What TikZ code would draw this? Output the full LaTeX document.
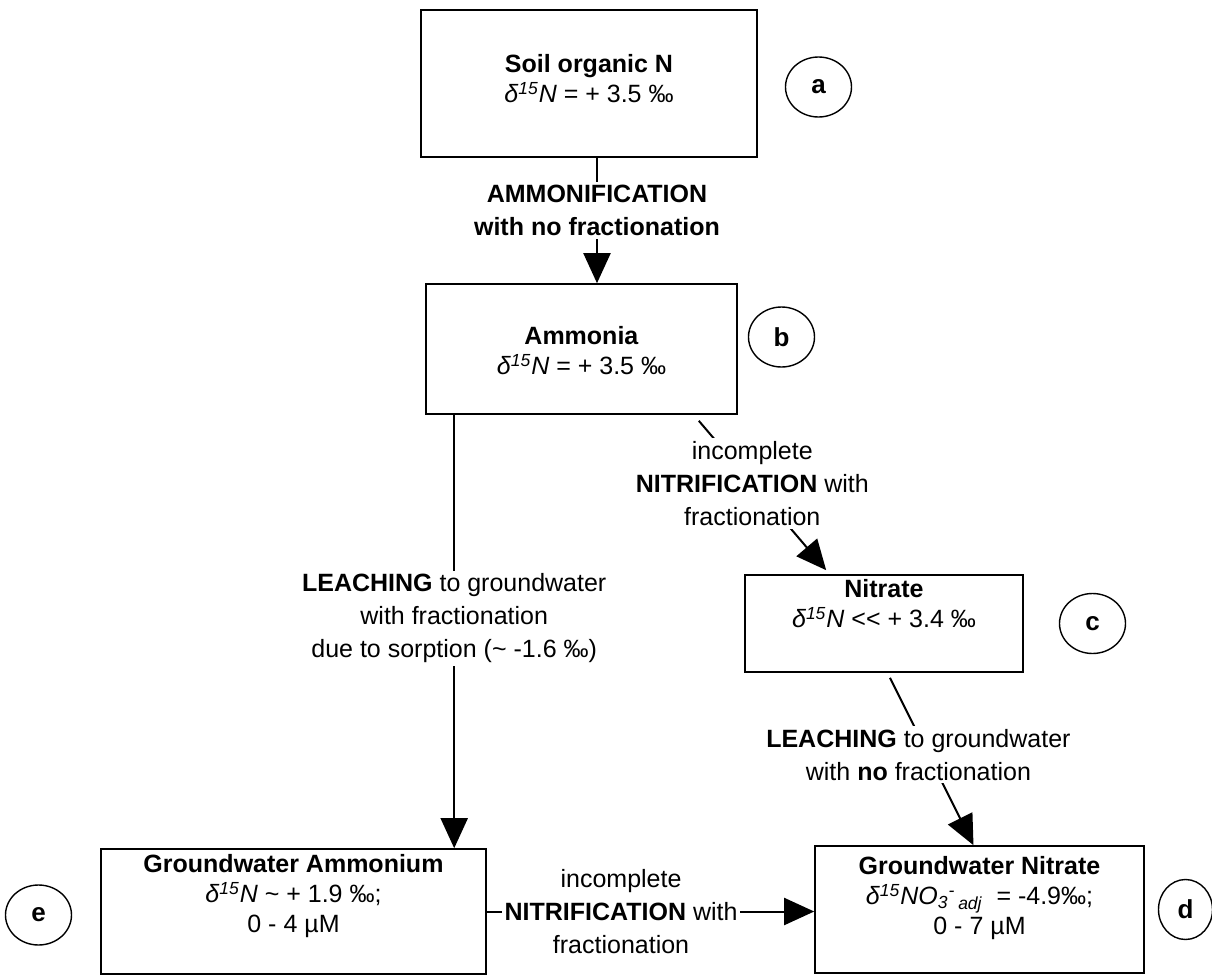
\documentclass[tikz,border=0pt]{standalone}
\usepackage{fontspec}
\setmainfont{Liberation Sans}
\usetikzlibrary{arrows.meta, positioning, shapes.geometric}

\newcommand{\dN}{\textit{δ\textsuperscript{15}N}}

\begin{document}
\begin{tikzpicture}[
    x=0.5pt, y=-0.5pt,
    font=\fontsize{12.5}{14.5}\selectfont,
    box/.style={rectangle, draw, line width=0.8pt, inner sep=0pt},
    boxtext/.style={align=center, inner sep=0pt, font=\fontsize{12.5}{15}\selectfont},
    tag/.style={ellipse, draw, line width=0.7pt, minimum width=33pt, minimum height=30pt, inner sep=0pt, font=\fontsize{13}{15}\selectfont\bfseries},
    lbl/.style={fill=white, align=center, inner sep=1.5pt, font=\fontsize{12.5}{16.5}\selectfont},
    arrow/.style={line width=1pt, -{Triangle[length=15pt, width=13.5pt]}}
]
\path[use as bounding box, fill=white] (0,0) rectangle (1212,975);

% Boxes
\node[box, minimum width=168pt, minimum height=73.5pt] (soil) at (589,83.5) {};
\node[box, minimum width=155.5pt, minimum height=65pt] (ammonia) at (581.5,349) {};
\node[box, minimum width=139pt, minimum height=48.5pt] (nitrate) at (884,623.5) {};
\node[box, minimum width=164.5pt, minimum height=63.5pt] (gwnitrate) at (979.5,909.5) {};
\node[box, minimum width=192.5pt, minimum height=62.5pt] (gwammonium) at (293.5,911.5) {};

% Box texts
\node[boxtext, below=22.5pt of soil.north] (soilT) {\textbf{Soil organic N}\\\dN{} = + 3.5 ‰};
\node[boxtext, below=21.5pt of ammonia.north] (ammoniaT) {\textbf{Ammonia}\\\dN{} = + 3.5 ‰};
\node[boxtext, below=2.5pt of nitrate.north] (nitrateT) {\textbf{Nitrate}\\\dN{} <\kern0pt< + 3.4 ‰};
\node[boxtext, below=5.5pt of gwnitrate.north] (gwnitrateT) {\textbf{Groundwater Nitrate}\\\textit{δ\textsuperscript{15}NO\textsubscript{3}\textsuperscript{-}\textsubscript{\,adj}}\ \ = -4.9‰;\\0 - 7 µM};
\node[boxtext, below=3pt of gwammonium.north] (gwammoniumT) {\textbf{Groundwater Ammonium}\\\dN{} \textasciitilde{} + 1.9 ‰;\\0 - 4 µM};

% Tags
\node[tag, right=13.5pt of soil, yshift=-1.75pt] (a) {a};
\node[tag, right=5pt of ammonia, yshift=6pt] (b) {b};
\node[tag, right=17.5pt of nitrate] (c) {c};
\node[tag, right=6.5pt of gwnitrate, minimum width=27pt] (d) {d};
\node[tag, left=14pt of gwammonium, yshift=-1.75pt] (e) {e};

% Connectors
\draw[arrow] ([xshift=4pt]soil.south) -- ([xshift=4pt]soil.south |- ammonia.north)
    node[lbl, pos=0.42] {\textbf{AMMONIFICATION}\\\textbf{with no fractionation}};
\draw[arrow] ([xshift=-19.5pt,yshift=-3pt]ammonia.south east) -- ([xshift=41pt,yshift=2pt]nitrate.north west)
    node[lbl, pos=0.42] {incomplete\\\textbf{NITRIFICATION} with\\fractionation};
\draw[arrow] ([xshift=14.5pt]ammonia.south west) -- ([xshift=14.5pt]ammonia.south west |- gwammonium.north)
    node[lbl, pos=0.47] {\textbf{LEACHING} to groundwater\\with fractionation\\due to sorption (\textasciitilde{} -1.6 ‰)};
\draw[arrow] ([xshift=3pt,yshift=-2.5pt]nitrate.south) -- ([xshift=-3pt]gwnitrate.north)
    node[lbl, pos=0.46, xshift=-5pt] {\textbf{LEACHING} to groundwater\\with \textbf{no} fractionation};
\draw[arrow] (gwammonium.east) -- (gwammonium.east -| gwnitrate.west)
    node[lbl, pos=0.41] {incomplete\\\textbf{NITRIFICATION} with\\fractionation};

\end{tikzpicture}
\end{document}
